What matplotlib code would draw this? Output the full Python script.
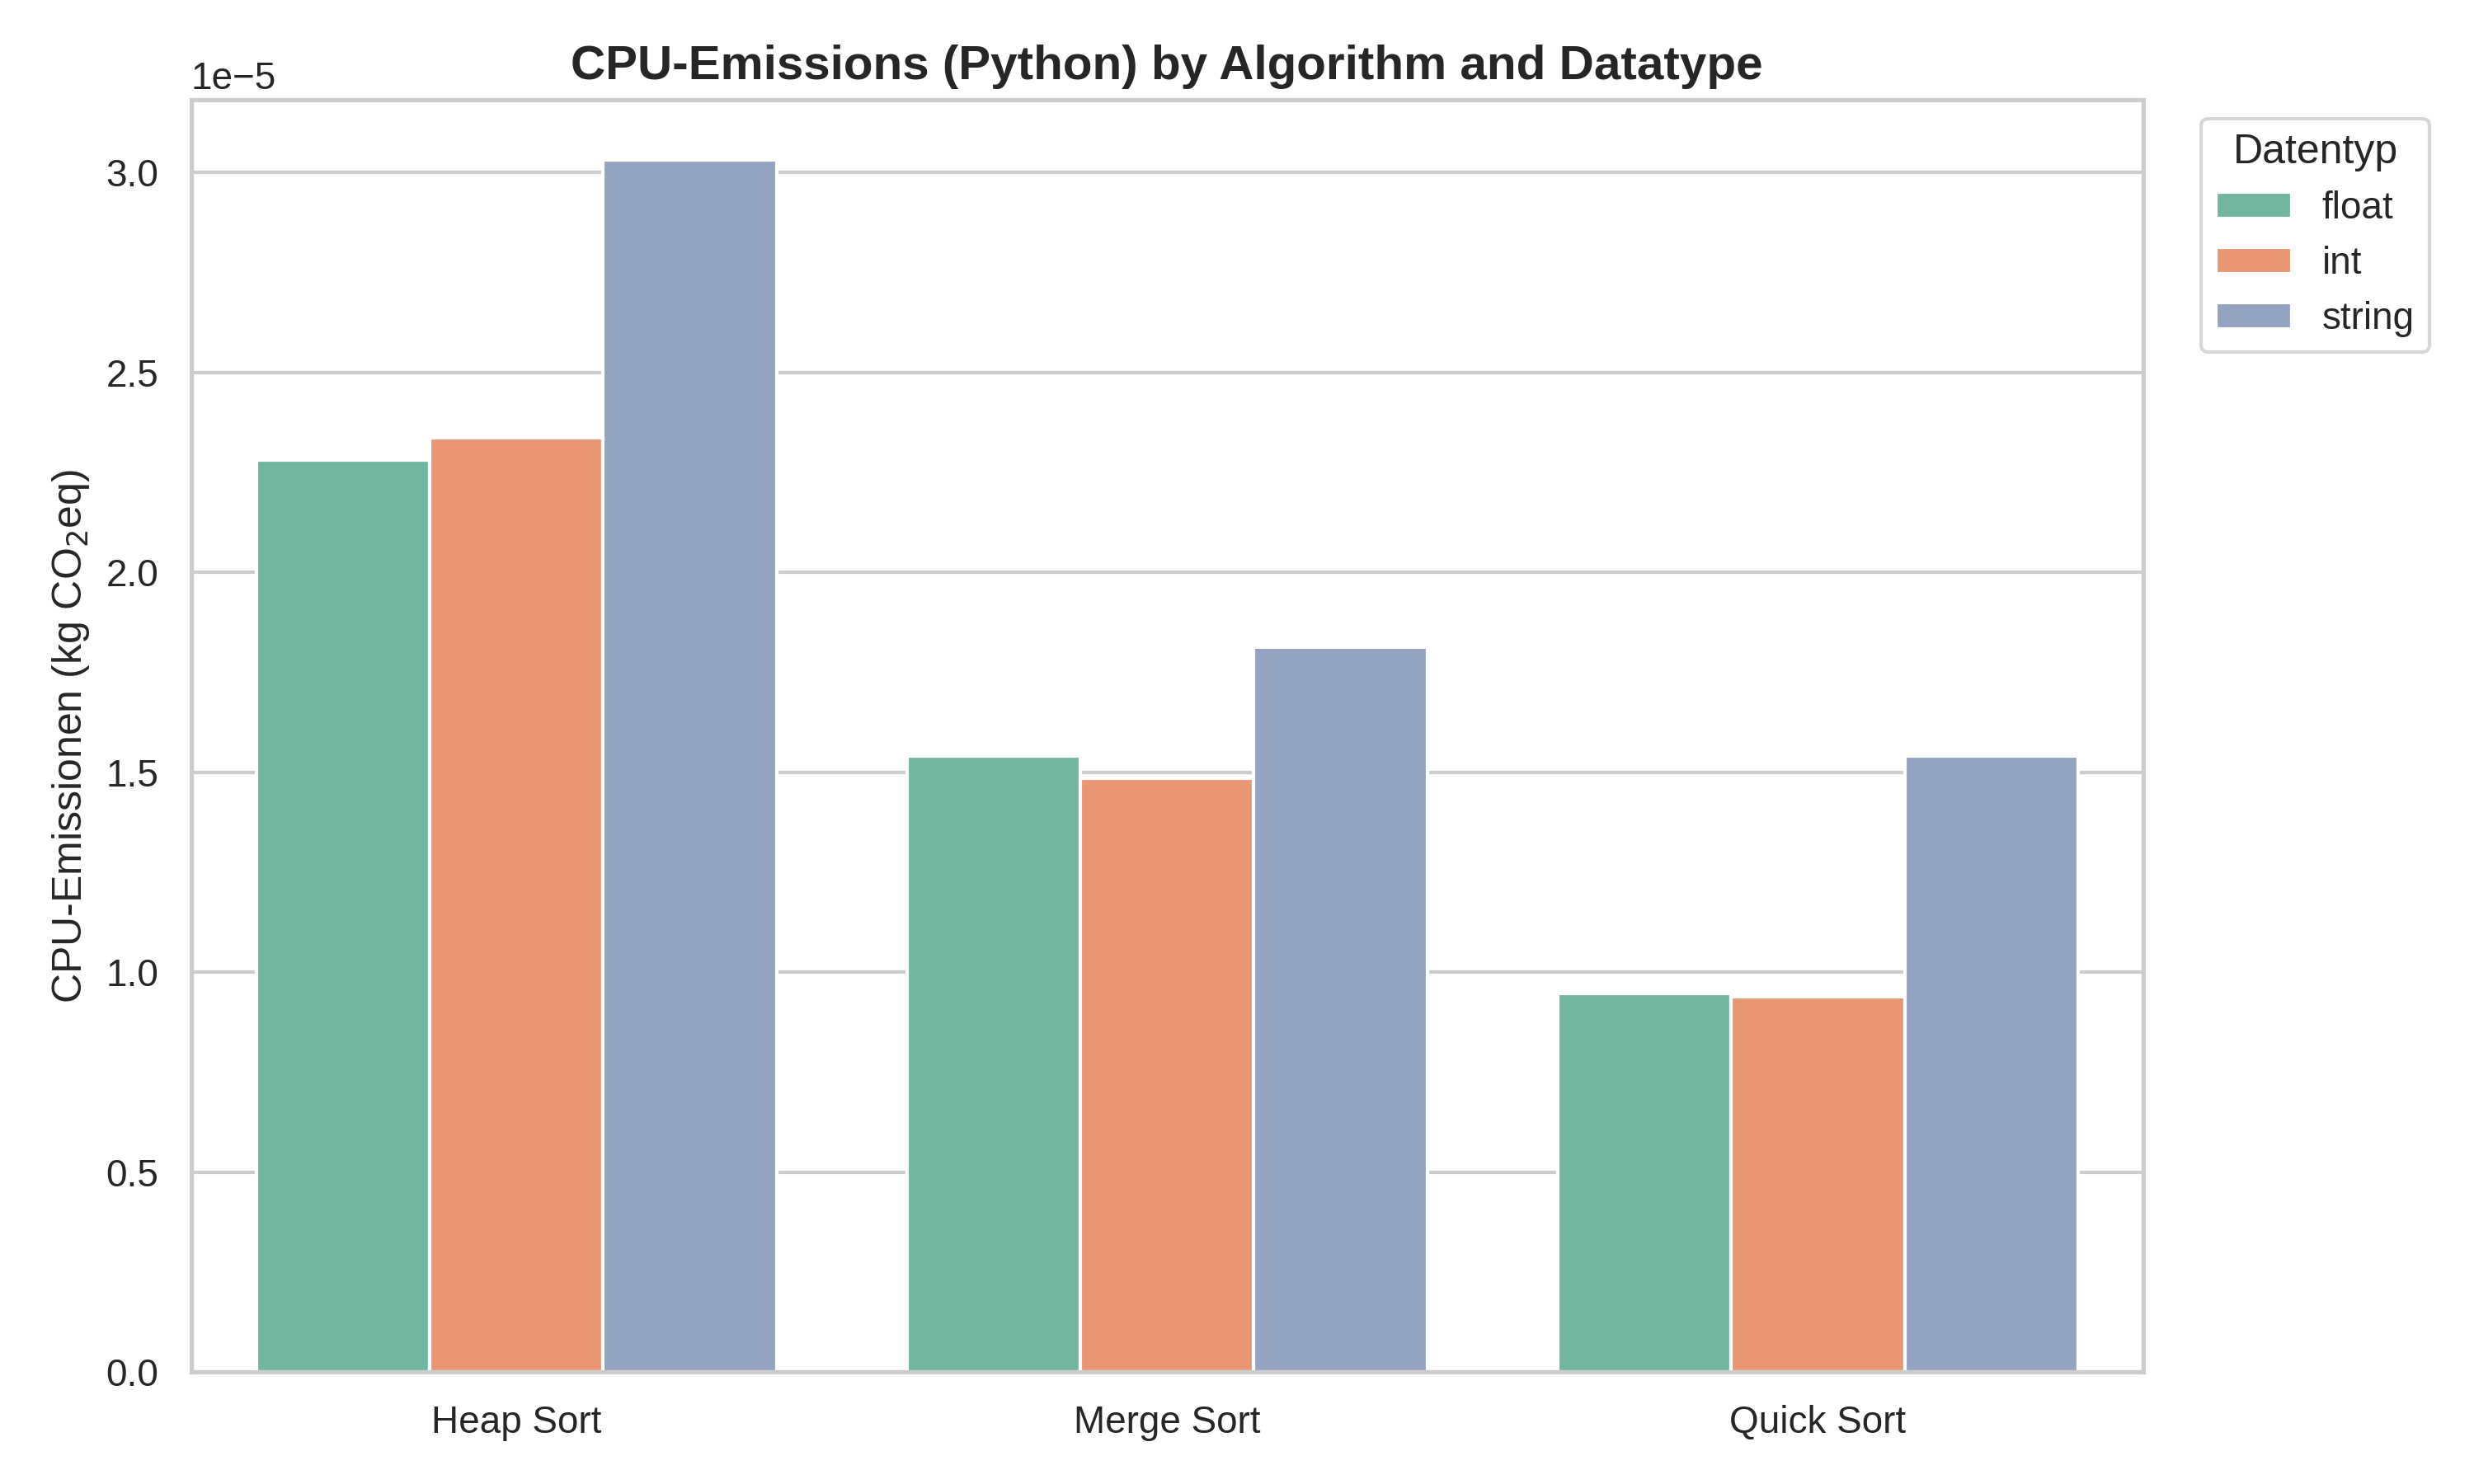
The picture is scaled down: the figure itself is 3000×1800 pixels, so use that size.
import matplotlib
matplotlib.use('AGG')
import matplotlib.pyplot as plt
import seaborn as sns
import pandas as pd

# Data (CPU emissions in kg CO2eq)
algorithms = ['Heap Sort', 'Merge Sort', 'Quick Sort']
datatypes = ['float', 'int', 'string']
float_vals = [2.281e-5, 1.540e-5, 0.946e-5]
int_vals = [2.337e-5, 1.484e-5, 0.939e-5]
string_vals = [3.030e-5, 1.813e-5, 1.541e-5]

rows = []
for dt, vals in zip(datatypes, [float_vals, int_vals, string_vals]):
    for alg, v in zip(algorithms, vals):
        rows.append({'Algorithmus': alg, 'Datentyp': dt, 'Emissionen': v})
df = pd.DataFrame(rows)

sns.set_theme(style='whitegrid')
plt.rcParams['font.family'] = ['Liberation Sans', 'DejaVu Sans']

fig, ax = plt.subplots(figsize=(10, 6), dpi=300)

# Grouped bars
sns.barplot(data=df, x='Algorithmus', y='Emissionen', hue='Datentyp',
            order=algorithms, hue_order=datatypes, palette='Set2', ax=ax)

# Labels and title
ax.set_title('CPU-Emissions (Python) by Algorithm and Datatype',
             fontsize=14, fontweight='bold')
ax.set_xlabel('')
ax.set_ylabel('CPU-Emissionen (kg CO$_2$eq)')

# Legend outside the plot
ax.legend(title='Datentyp', bbox_to_anchor=(1.02, 1), loc='upper left')

fig.subplots_adjust(left=0.0772, right=0.8663, top=0.9328, bottom=0.0755)
fig.savefig('out.png', dpi=300)
